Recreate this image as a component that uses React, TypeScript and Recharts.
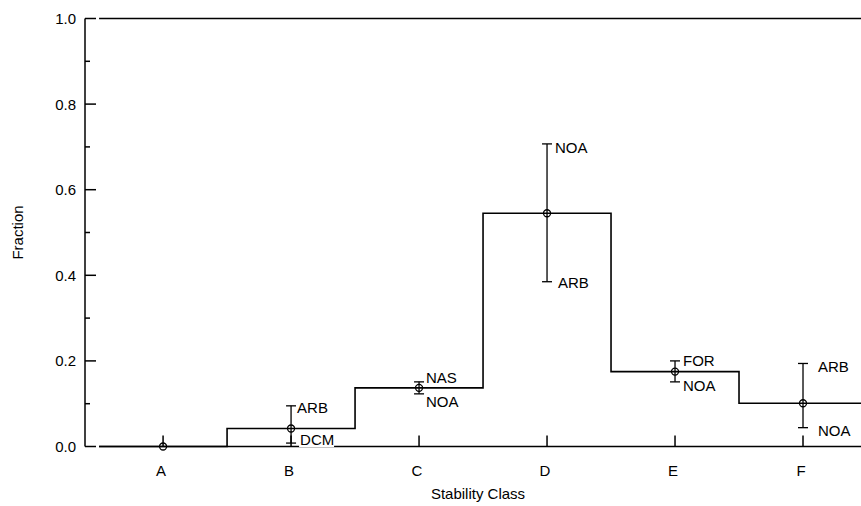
import {
  ComposedChart,
  Line,
  Scatter,
  ErrorBar,
  XAxis,
  YAxis,
  ReferenceLine,
} from 'recharts';

// stability classes and measured fractions
const categories = ['A', 'B', 'C', 'D', 'E', 'F'];
const fractions = [0, 0.042, 0.137, 0.545, 0.175, 0.101];
const upperBounds = [null, 0.095, 0.151, 0.707, 0.2, 0.194];
const lowerBounds = [null, 0.008, 0.123, 0.385, 0.151, 0.044];
const upperLabels = ['', 'ARB', 'NAS', 'NOA', 'FOR', 'ARB'];
const lowerLabels = ['', 'DCM', 'NOA', 'ARB', 'NOA', 'NOA'];
const yTicks = [0, 0.1, 0.2, 0.3, 0.4, 0.5, 0.6, 0.7, 0.8, 0.9, 1.0];

// label placement (px offsets from the bar end)
const upperOffsets = [[0, 0], [6, 2], [7, -4], [8, 4], [8, 0], [15, 3]];
const lowerOffsets = [[0, 0], [9, -3], [7, 8], [11, 1], [8, 4], [15, 3]];

const FONT = '"Liberation Sans", Arial, Helvetica, sans-serif';
const FS = 15;
const INK = '#000';

const points = categories.map((c, i) => ({
  x: i,
  y: fractions[i],
  err: upperBounds[i] == null ? null : [fractions[i] - (lowerBounds[i] as number), (upperBounds[i] as number) - fractions[i]],
}));

// step outline: pad half a class on each side
const stepData = [
  { x: -0.5, y: fractions[0] },
  ...fractions.map((v, i) => ({ x: i, y: v })),
  { x: categories.length - 0.5, y: fractions[fractions.length - 1] },
];

const boundLabels = [
  ...upperBounds.map((v, i) => ({ x: i, y: v, text: upperLabels[i], off: upperOffsets[i] })),
  ...lowerBounds.map((v, i) => ({ x: i, y: v, text: lowerLabels[i], off: lowerOffsets[i] })),
].filter((d) => d.y != null);

const BoundLabel = (props: any) => {
  const { cx, cy, payload } = props;
  if (cx == null || cy == null) return null;
  const [dx, dy] = payload.off;
  const x = cx + dx;
  const y = cy + dy;
  const w = payload.text.length * 11;
  return (
    <g>
      <rect x={x - 1} y={y - 7} width={w + 2} height={14} fill="#fff" />
      <text x={x} y={y} dy="0.36em" fontSize={FS} fontFamily={FONT} fill={INK}>
        {payload.text}
      </text>
    </g>
  );
};

const PointMark = (props: any) => {
  const { cx, cy } = props;
  if (cx == null || cy == null) return null;
  return <circle cx={cx} cy={cy} r={3.5} fill="none" stroke={INK} strokeWidth={1.3} />;
};

const YTick = (props: any) => {
  const { x, y, payload } = props;
  const axisX = x + 9;
  const major = Math.round(payload.value * 10) % 2 === 0;
  return (
    <g>
      <line x1={axisX} x2={axisX + (major ? 11 : 5)} y1={y} y2={y} stroke={INK} strokeWidth={1.5} />
      {major && (
        <text x={x} y={y} dy="0.36em" textAnchor="end" fontSize={FS} fontFamily={FONT} fill={INK}>
          {payload.value.toFixed(1)}
        </text>
      )}
    </g>
  );
};

const BottomTick = (props: any) => {
  const { x, y, payload } = props;
  const axisY = y - 24;
  return (
    <g>
      <line x1={x} x2={x} y1={axisY} y2={axisY - 11} stroke={INK} strokeWidth={1.5} />
      <text x={x - 2} y={y} dy="0.36em" textAnchor="middle" fontSize={FS} fontFamily={FONT} fill={INK}>
        {categories[payload.value]}
      </text>
    </g>
  );
};

const TopTick = (props: any) => {
  const { x, y } = props;
  return <line x1={x} x2={x} y1={y} y2={y + 11} stroke={INK} strokeWidth={1.5} />;
};

export default function App() {
  const xDomain = [-0.61, categories.length - 0.5];
  const xTicks = categories.map((_, i) => i);

  return (
    <div
      style={{
        position: 'absolute',
        left: 0,
        top: 0,
        width: 861,
        height: 506,
        overflow: 'hidden',
        background: '#fff',
      }}
    >
      <ComposedChart
        width={880}
        height={506}
        margin={{ top: 18.5, right: 13, left: 0, bottom: 0 }}
        style={{ fontFamily: FONT }}
      >
        <XAxis
          dataKey="x"
          type="number"
          domain={xDomain}
          ticks={xTicks}
          height={59.5}
          axisLine={false}
          tickLine={false}
          tickSize={0}
          tickMargin={24}
          tick={<BottomTick />}
          label={{
            value: 'Stability Class',
            position: 'insideBottom',
            offset: 7,
            fill: INK,
            fontSize: FS,
            dx: 2,
          }}
        />
        <XAxis
          xAxisId="top"
          orientation="top"
          dataKey="x"
          type="number"
          domain={xDomain}
          ticks={xTicks}
          height={0}
          axisLine={false}
          tickLine={false}
          tickSize={0}
          tickMargin={0}
          tick={<TopTick />}
        />
        <YAxis
          type="number"
          domain={[0, 1]}
          ticks={yTicks}
          width={85}
          axisLine={{ stroke: INK, strokeWidth: 1.5 }}
          tickLine={false}
          tickSize={0}
          tickMargin={9}
          tick={<YTick />}
          label={{
            value: 'Fraction',
            angle: -90,
            position: 'insideLeft',
            offset: 18,
            fill: INK,
            fontSize: FS,
            style: { textAnchor: 'middle' },
          }}
        />
        <ReferenceLine
          segment={[
            { x: -0.5, y: 0 },
            { x: categories.length - 0.5, y: 0 },
          ]}
          stroke={INK}
          strokeWidth={1.5}
        />
        <ReferenceLine
          segment={[
            { x: -0.5, y: 1 },
            { x: categories.length - 0.5, y: 1 },
          ]}
          stroke={INK}
          strokeWidth={1.5}
        />
        <Line
          data={stepData}
          dataKey="y"
          type="step"
          stroke={INK}
          strokeWidth={1.6}
          dot={false}
          activeDot={false}
          isAnimationActive={false}
        />
        <Scatter data={points} dataKey="y" shape={<PointMark />} isAnimationActive={false}>
          <ErrorBar dataKey="err" direction="y" width={5} stroke={INK} strokeWidth={1.3} isAnimationActive={false} />
        </Scatter>
        <Scatter data={boundLabels} dataKey="y" shape={<BoundLabel />} isAnimationActive={false} />
      </ComposedChart>
    </div>
  );
}
